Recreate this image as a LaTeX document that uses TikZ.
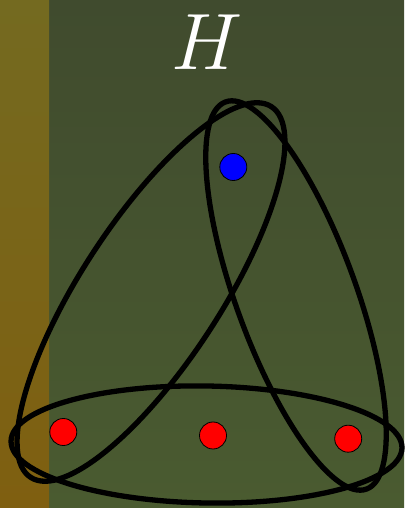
\RequirePackage{fix-cm}
\documentclass[tikz,border=0pt]{standalone}
\definecolor{bgtop}{HTML}{404B2E}
\definecolor{bgbot}{HTML}{4A5B30}
\definecolor{striptop}{HTML}{746A20}
\definecolor{stripbot}{HTML}{7F5F10}
\begin{document}
\begin{tikzpicture}[x=1pt,y=1pt,
  vertex/.style={circle,draw=black,line width=0.8pt,minimum size=27pt,inner sep=0pt},
  hyper/.style={draw=black,line width=5.3pt}]
\shade[top color=bgtop,bottom color=bgbot] (0,0) rectangle (404,508);
\shade[top color=striptop,bottom color=stripbot] (0,0) rectangle (49,508);
\useasboundingbox (0,0) rectangle (404,508);
\node[text=white,font=\fontsize{80}{96}\selectfont] (title) at (207,466) {$H$};
\node[vertex,fill=blue] (b) at (233.3,341) {};
\node[vertex,fill=red] (r1) at (63.3,76) {};
\node[vertex,fill=red] (r2) at (213,72.5) {};
\node[vertex,fill=red] (r3) at (348.2,69.3) {};
\draw[hyper,shift={(151,216)},rotate=57] (0,0) ellipse [x radius=221pt,y radius=70pt];
\draw[hyper,shift={(296,212.5)},rotate=-70] (0,0) ellipse [x radius=206pt,y radius=60pt];
\draw[hyper,shift={(206.5,63.5)},rotate=-1] (0,0) ellipse [x radius=195.5pt,y radius=58.5pt];
\end{tikzpicture}
\end{document}
